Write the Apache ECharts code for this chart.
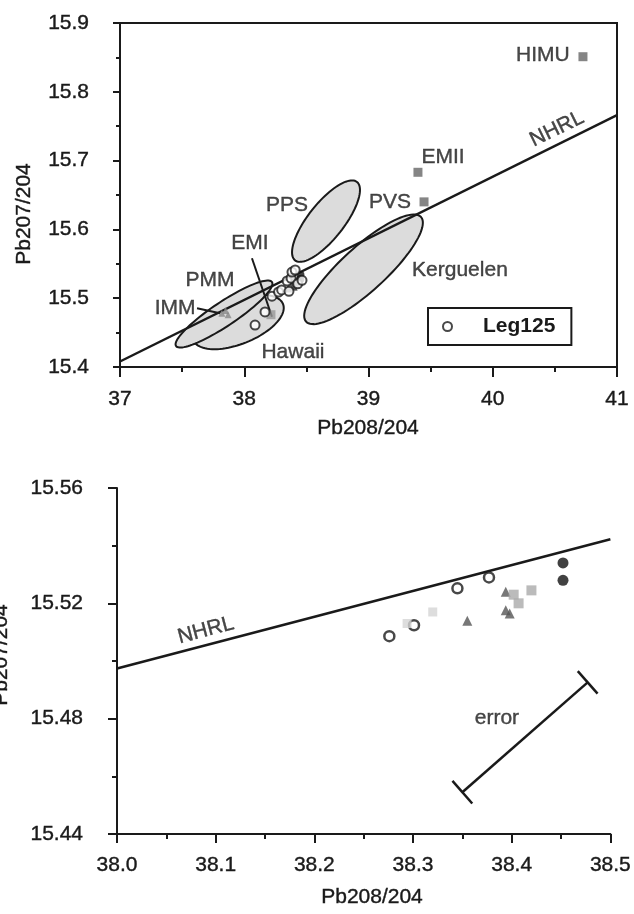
<!DOCTYPE html>
<html>
<head>
<meta charset="utf-8">
<script src="https://cdn.jsdelivr.net/npm/echarts@6/dist/echarts.min.js"></script>
<style>
  html, body { margin: 0; padding: 0; background: #fff; }
  #chart { width: 634px; height: 914px; }
</style>
</head>
<body>
<div id="chart"></div>
<script>
// ---------- Upper panel: Pb208/204 vs Pb207/204 overview ----------
const topXRange = [37, 41];
const topYRange = [15.4, 15.9];
const nhrlTop = [[37, 15.408], [41, 15.766]];

// Mantle end-members (hatched squares)
const endMembers = [
  { name: 'HIMU', value: [40.726, 15.851] },
  { name: 'EMII', value: [39.398, 15.683] },
  { name: 'PVS',  value: [39.447, 15.640] }
];

// Field envelopes: centre, end of first semi-axis, end of second semi-axis
const fieldNames  = ['PPS', 'Kerguelen', 'Hawaii', 'PMM'];
const fieldCentre = [[38.658, 15.612], [38.960, 15.542], [37.950, 15.4654], [37.837, 15.477]];
const fieldAxisA  = [[38.907, 15.669], [39.4225, 15.618], [38.312, 15.4916], [38.223, 15.5235]];
const fieldAxisB  = [[38.771, 15.596], [39.079, 15.518], [38.016, 15.4358], [37.891, 15.4625]];

// Leg 125 samples in the overview
const leg125Top = [
  [38.087, 15.461], [38.167, 15.480], [38.223, 15.503], [38.276, 15.509],
  [38.301, 15.512], [38.345, 15.525], [38.360, 15.510], [38.377, 15.529],
  [38.384, 15.538], [38.410, 15.541], [38.430, 15.521], [38.465, 15.526]
];
const immPoints = [[37.82, 15.478], [37.85, 15.482], [37.87, 15.476]];
const emiPoints = [[38.215, 15.476]];
const emiPointer = [[38.062, 15.558], [38.223, 15.473]];
const immPointer = [[37.620, 15.4855], [37.805, 15.478]];

// Text annotations of the upper panel
const topLabels = [
  { name: 'HIMU', value: [40.404, 15.853] },
  { name: 'EMII', value: [39.600, 15.705] },
  { name: 'PPS', value: [38.344, 15.635] },
  { name: 'PVS', value: [39.173, 15.640] },
  { name: 'EMI', value: [38.046, 15.580] },
  { name: 'PMM', value: [37.724, 15.526] },
  { name: 'IMM', value: [37.443, 15.486] },
  { name: 'Hawaii', value: [38.392, 15.422] },
  { name: 'Kerguelen', value: [39.736, 15.541] },
  { name: 'NHRL', value: [40.517, 15.746], rotate: 26 }
];

// ---------- Lower panel: detail of the Leg 125 cluster ----------
const lowXRange = [38.0, 38.5];
const lowYRange = [15.44, 15.56];
const nhrlLow = [[38.0, 15.4974], [38.5, 15.5422]];
const openCircles = [[38.276, 15.5086], [38.301, 15.5124], [38.345, 15.5252], [38.377, 15.529]];
const solidCircles = [[38.452, 15.534], [38.452, 15.528]];
const triangles = [[38.355, 15.514], [38.394, 15.524], [38.394, 15.5176], [38.398, 15.5165]];
const darkSquares = [[38.402, 15.523], [38.407, 15.520], [38.420, 15.5245]];
const lightSquares = [[38.320, 15.517], [38.294, 15.513]];
const errorBar = [[38.350, 15.4545, 38.477, 15.4926]];
const lowLabels = [
  { name: 'NHRL', value: [38.090, 15.5106], rotate: 15 },
  { name: 'error', value: [38.385, 15.480] }
];

const ink = '#1a1a1a';
const fontFamily = 'Liberation Sans, Arial, sans-serif';
const tickFont = { fontSize: 21, color: ink, fontFamily: fontFamily, textBorderColor: ink, textBorderWidth: 0.4 };

function valueAxis(idx, range, interval, digits, tickLen, labelMargin) {
  return {
    type: 'value', gridIndex: idx, min: range[0], max: range[1], interval: interval,
    axisLine: { show: true, onZero: false, lineStyle: { color: ink, width: 2 } },
    axisTick: { show: true, length: tickLen, lineStyle: { color: ink, width: 2 } },
    minorTick: { show: true, splitNumber: 2, length: Math.round(tickLen / 2), lineStyle: { color: ink, width: 2 } },
    splitLine: { show: false },
    axisLabel: Object.assign({ margin: labelMargin, formatter: v => v.toFixed(digits) }, tickFont)
  };
}

function ellipseItem(params, api) {
  const c = api.coord([api.value(0), api.value(1)]);
  const a = api.coord([api.value(2), api.value(3)]);
  const b = api.coord([api.value(4), api.value(5)]);
  const ax = a[0] - c[0], ay = a[1] - c[1], bx = b[0] - c[0], by = b[1] - c[1];
  const pts = [];
  for (let i = 0; i < 96; i++) {
    const t = i / 96 * Math.PI * 2;
    pts.push([c[0] + ax * Math.cos(t) + bx * Math.sin(t), c[1] + ay * Math.cos(t) + by * Math.sin(t)]);
  }
  return { type: 'polygon', shape: { points: pts }, style: { fill: '#dcdcdc', stroke: ink, lineWidth: 2 } };
}

function errorItem(params, api) {
  const p = api.coord([api.value(0), api.value(1)]);
  const q = api.coord([api.value(2), api.value(3)]);
  const dx = q[0] - p[0], dy = q[1] - p[1];
  const len = Math.sqrt(dx * dx + dy * dy);
  const nx = -dy / len * 15, ny = dx / len * 15;
  const st = { stroke: ink, lineWidth: 2.5 };
  return {
    type: 'group', children: [
      { type: 'line', shape: { x1: p[0], y1: p[1], x2: q[0], y2: q[1] }, style: st },
      { type: 'line', shape: { x1: p[0] - nx, y1: p[1] - ny, x2: p[0] + nx, y2: p[1] + ny }, style: st },
      { type: 'line', shape: { x1: q[0] - nx, y1: q[1] - ny, x2: q[0] + nx, y2: q[1] + ny }, style: st }
    ]
  };
}

function textSeries(idx, data) {
  return {
    type: 'scatter', xAxisIndex: idx, yAxisIndex: idx, symbolSize: 0, silent: true, z: 10,
    data: data.map(d => ({ name: d.name, value: d.value, label: { rotate: d.rotate || 0 } })),
    label: Object.assign({ show: true, position: 'inside', formatter: '{b}' }, tickFont),
    emphasis: { disabled: true }
  };
}

function lineSeries(idx, data, width) {
  return {
    type: 'line', xAxisIndex: idx, yAxisIndex: idx, data: data, symbol: 'none', silent: true, z: 4,
    lineStyle: { color: ink, width: width }, emphasis: { disabled: true }
  };
}

function pointSeries(idx, name, data, symbol, size, style, z) {
  return {
    type: 'scatter', name: name, xAxisIndex: idx, yAxisIndex: idx, data: data,
    symbol: symbol, symbolSize: size, itemStyle: style, z: z || 5, emphasis: { disabled: true }
  };
}

const openStyle = { color: '#fff', borderColor: ink, borderWidth: 2 };
const titleFont = '21px "Liberation Sans", Arial, sans-serif';
function titleText(x, y, text, rotated) {
  return {
    type: 'text', x: x, y: y, rotation: rotated ? Math.PI / 2 : 0,
    style: { text: text, font: titleFont, fill: ink, stroke: ink, lineWidth: 0.4, align: 'center', verticalAlign: 'middle' }
  };
}

const option = {
  backgroundColor: '#fff',
  animation: false,
  grid: [
    { left: 120, top: 23, width: 497, height: 344, show: true, borderColor: ink, borderWidth: 2, backgroundColor: 'transparent' },
    { left: 117, top: 488, width: 497, height: 346 }
  ],
  xAxis: [
    valueAxis(0, topXRange, 1, 0, 10, 22),
    valueAxis(1, lowXRange, 0.1, 1, 9, 21)
  ],
  yAxis: [
    valueAxis(0, topYRange, 0.1, 1, 7, 31),
    valueAxis(1, lowYRange, 0.04, 2, 9, 34)
  ],
  legend: {
    data: ['Leg125'], left: 428, top: 308, selectedMode: false,
    borderColor: ink, borderWidth: 2, padding: [8, 16, 8, 14],
    icon: 'circle', itemWidth: 9, itemHeight: 9,
    itemStyle: { color: '#fff', borderColor: ink, borderWidth: 2 },
    textStyle: { fontSize: 21, fontWeight: 'bold', color: ink, padding: [0, 0, 0, 26], fontFamily: fontFamily }
  },
  graphic: [
    titleText(24, 214, 'Pb207/204', true),
    titleText(368, 428, 'Pb208/204', false),
    titleText(1, 655, 'Pb207/204', true),
    titleText(372, 897, 'Pb208/204', false)
  ],
  series: [
    {
      type: 'custom', xAxisIndex: 0, yAxisIndex: 0, silent: true, z: 2, clip: true,
      data: fieldNames.map((n, i) => ({ name: n, value: fieldCentre[i].concat(fieldAxisA[i], fieldAxisB[i]) })),
      encode: { x: [0, 2, 4], y: [1, 3, 5] },
      renderItem: ellipseItem
    },
    lineSeries(0, nhrlTop, 2.5),
    lineSeries(0, emiPointer, 2),
    lineSeries(0, immPointer, 2),
    pointSeries(0, 'end-members', endMembers, 'rect', 9, { color: '#666' }),
    pointSeries(0, 'IMM', immPoints, 'triangle', 7, { color: '#888' }),
    pointSeries(0, 'EMI', emiPoints, 'rect', 9, { color: '#999' }),
    pointSeries(0, 'detail-tri', triangles, 'triangle', 8, { color: '#444' }, 6),
    pointSeries(0, 'detail-sq', darkSquares, 'rect', 8, { color: '#555' }, 6),
    pointSeries(0, 'detail-solid', solidCircles, 'circle', 8, { color: '#111' }, 6),
    pointSeries(0, 'Leg125', leg125Top, 'circle', 9, openStyle, 7),
    textSeries(0, topLabels),

    lineSeries(1, nhrlLow, 2.5),
    pointSeries(1, 'Leg125', openCircles, 'circle', 10, { color: '#fff', borderColor: ink, borderWidth: 2.5 }),
    pointSeries(1, 'solid', solidCircles, 'circle', 11, { color: '#111' }),
    pointSeries(1, 'tri', triangles, 'triangle', 10, { color: '#555' }),
    pointSeries(1, 'sq-dark', darkSquares, 'rect', 10, { color: '#aaa' }),
    pointSeries(1, 'sq-light', lightSquares, 'rect', 9, { color: '#d4d4d4' }),
    {
      type: 'custom', xAxisIndex: 1, yAxisIndex: 1, silent: true, z: 4,
      data: errorBar, encode: { x: [0, 2], y: [1, 3] }, renderItem: errorItem
    },
    textSeries(1, lowLabels)
  ]
};

const chart = echarts.init(document.getElementById('chart'), null, { renderer: 'canvas' });
chart.setOption(option);
</script>
</body>
</html>
